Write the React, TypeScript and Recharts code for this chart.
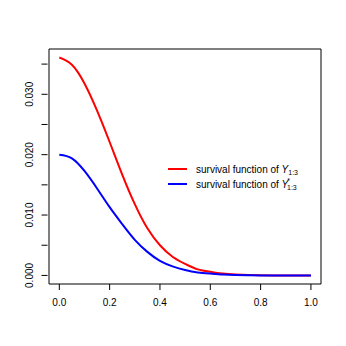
import { LineChart, Line, XAxis, YAxis, ReferenceArea } from "recharts";

const xs = [0, 0.05, 0.1, 0.15, 0.2, 0.25, 0.3, 0.35, 0.4, 0.45, 0.5, 0.55, 0.6, 0.65, 0.7, 0.75, 0.8, 0.85, 0.9, 0.95, 1];
const survivalY = [0.0361, 0.0349, 0.0318, 0.0273, 0.0221, 0.0167, 0.0118, 0.0078, 0.005, 0.0031, 0.0019, 0.001, 0.0006, 0.0003, 0.00015, 0.00007, 0.00003, 0, 0, 0, 0];
const survivalYStar = [0.02, 0.0194, 0.0173, 0.0144, 0.0113, 0.0085, 0.0059, 0.0039, 0.0024, 0.0015, 0.0009, 0.0005, 0.0003, 0.00015, 0.00007, 0.00003, 0, 0, 0, 0, 0];
const xTicks = [0, 0.2, 0.4, 0.6, 0.8, 1];
const yTicks = [0, 0.005, 0.01, 0.015, 0.02, 0.025, 0.03, 0.035];

const data = xs.map((x, i) => ({ x, y: survivalY[i], ystar: survivalYStar[i] }));

const FONT = "'Liberation Sans', Arial, Helvetica, sans-serif";

const YTick = (props: any) => {
  const { x, y, payload } = props;
  const v = payload.value;
  const labelled = Math.round(v * 1000) % 10 === 0;
  return (
    <g>
      <line x1={x + 0.5} x2={x + 6.5} y1={y} y2={y} stroke="#000" strokeWidth={1} />
      {labelled && (
        <text
          x={x - 8}
          y={y}
          transform={`rotate(-90, ${x - 8}, ${y})`}
          textAnchor="middle"
          fontSize={10}
          fontFamily={FONT}
          fill="#000"
        >
          {v.toFixed(3)}
        </text>
      )}
    </g>
  );
};

const LegendBox = () => (
  <svg width={180} height={40} style={{ display: "block" }}>
    <line x1={8} x2={27} y1={14} y2={14} stroke="#ff0000" strokeWidth={2} />
    <line x1={8} x2={27} y1={29} y2={29} stroke="#0000ff" strokeWidth={2} />
    <text x={36} y={17.5} fontSize={10} fontFamily={FONT} fill="#000">
      survival function of <tspan fontStyle="italic">Y</tspan>
      <tspan fontSize={7} dy={2.5}>1:3</tspan>
    </text>
    <text x={36} y={32.5} fontSize={10} fontFamily={FONT} fill="#000">
      survival function of <tspan fontStyle="italic">Y</tspan>
      <tspan fontSize={7} dy={-5} dx={-1}>*</tspan>
      <tspan fontSize={7} dy={7.5} dx={-3}>1:3</tspan>
    </text>
  </svg>
);

export default function App() {
  return (
    <div style={{ position: "absolute", left: 0, top: 0, width: 346, height: 346, background: "#fff" }}>
      <LineChart width={346} height={346} data={data} margin={{ top: 49, right: 25, bottom: 0, left: 0 }}>
        <XAxis
          dataKey="x"
          type="number"
          domain={[-0.041, 1.04]}
          ticks={xTicks}
          tickFormatter={(v: number) => v.toFixed(1)}
          axisLine={false}
          tickSize={6}
          tickMargin={9}
          height={62}
          tick={{ fontSize: 10, fontFamily: FONT, fill: "#000" }}
          tickLine={{ stroke: "#000" }}
          allowDataOverflow
        />
        <YAxis
          type="number"
          domain={[-0.00142, 0.0375]}
          ticks={yTicks}
          width={49}
          axisLine={false}
          tickLine={false}
          tickSize={6}
          tick={<YTick />}
          allowDataOverflow
        />
        <ReferenceArea x1={-0.041} x2={1.04} y1={-0.00142} y2={0.0375} fill="none" stroke="#000" strokeWidth={1} ifOverflow="visible" />
        <Line type="natural" dataKey="y" stroke="#ff0000" strokeWidth={2} dot={false} isAnimationActive={false} />
        <Line type="natural" dataKey="ystar" stroke="#0000ff" strokeWidth={2} dot={false} isAnimationActive={false} />
      </LineChart>
      <div style={{ position: "absolute", left: 160, top: 155 }}>
        <LegendBox />
      </div>
    </div>
  );
}
